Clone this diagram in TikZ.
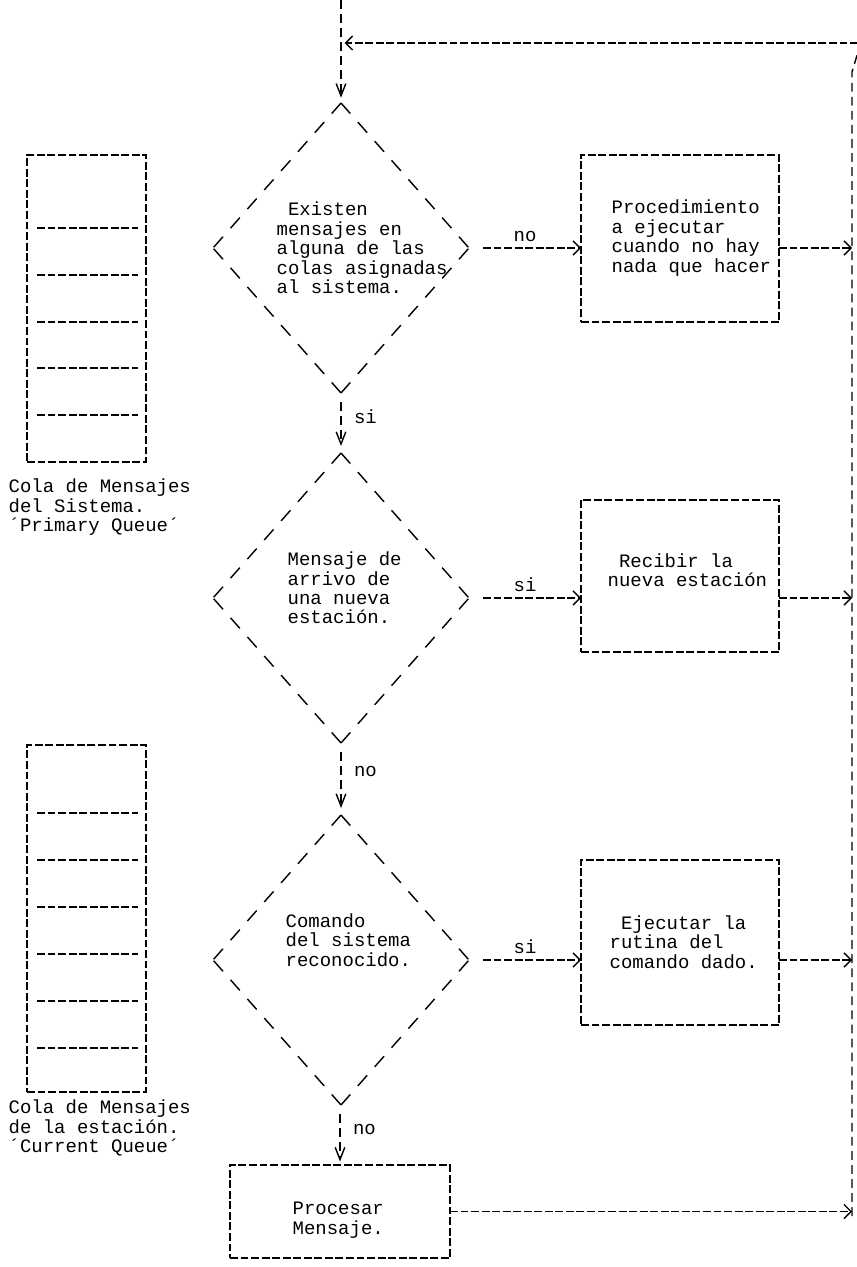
\documentclass[tikz,border=0pt]{standalone}
\usepackage{fontspec}
\setmainfont{Liberation Mono}
\usetikzlibrary{arrows.meta, shapes.geometric}

\begin{document}
\begin{tikzpicture}[
  x=0.02cm, y=-0.02cm,
  font=\fontsize{10.8}{11.05}\selectfont,
  line width=0.8pt,
  box/.style={draw, dash pattern=on 4.5pt off 1.5pt, inner sep=0pt, outer sep=0pt},
  decision/.style={diamond, minimum width=5.12cm, minimum height=5.8cm,
                   inner sep=0pt, outer sep=0pt},
  rim/.style={dash pattern=on 8pt off 6.5pt},
  rung/.style={dash pattern=on 4.5pt off 1.5pt},
  txt/.style={inner sep=0pt, align=left, anchor=west},
  lbl/.style={inner sep=1pt},
  flow/.style={-{Straight Barb[length=4pt, width=8pt]}, dash pattern=on 4.5pt off 1.5pt},
  bus/.style={dash pattern=on 5pt off 3pt},
  drop/.style={bus, -{Straight Barb[length=7pt, width=5.5pt]}},
]
\path[fill=white, use as bounding box] (0,0) rectangle (856,1267);

% message queues
\node[box, minimum width=2.38cm, minimum height=6.14cm] (q1) at (86.5,308.5) {};
\foreach \y in {228,275,322,368,415}
  \draw[rung] (37,\y) -- (138,\y);
\node[txt] (q1txt) at (8,507.5)
  {Cola de Mensajes\\del Sistema.\\´Primary Queue´};

\node[box, minimum width=2.38cm, minimum height=6.94cm] (q2) at (86.5,918.5) {};
\foreach \y in {813,860,907,954,1001,1048}
  \draw[rung] (37,\y) -- (138,\y);
\node[txt] (q2txt) at (8,1128)
  {Cola de Mensajes\\de la estación.\\´Current Queue´};

% decisions
\node[decision] (d1) at (341,248) {};
\node[decision] (d2) at (341,598) {};
\node[decision] (d3) at (341,960) {};
\foreach \d in {d1,d2,d3} {
  \draw[rim] (\d.north) -- (\d.east);
  \draw[rim] (\d.north) -- (\d.west);
  \draw[rim] (\d.south) -- (\d.east);
  \draw[rim] (\d.south) -- (\d.west);
}
\node[txt] (d1txt) at (276,248)
  {\hphantom{x}Existen\\mensajes en\\alguna de las\\colas asignadas\\al sistema.};
\node[txt] (d2txt) at (287,588)
  {Mensaje de\\arrivo de\\una nueva\\estación.};
\node[txt] (d3txt) at (285,940)
  {Comando\\del sistema\\reconocido.};

% actions
\node[box, minimum width=3.96cm, minimum height=3.34cm] (b1) at (680,238.5) {};
\node[box, minimum width=3.96cm, minimum height=3.04cm] (b2) at (680,576) {};
\node[box, minimum width=3.96cm, minimum height=3.3cm] (b3) at (680,942.5) {};
\node[txt] (b1txt) at (611,238)
  {Procedimiento\\a ejecutar\\cuando no hay\\nada que hacer};
\node[txt] (b2txt) at (607,570)
  {\hphantom{x}Recibir la\\nueva estación};
\node[txt] (b3txt) at (609,942)
  {\hphantom{x}Ejecutar la\\rutina del\\comando dado.};

\node[box, minimum width=4.4cm, minimum height=1.86cm] (pm) at (340,1211.5) {};
\node[txt] (pmtxt) at (292,1220) {Procesar\\Mensaje.};

% loop back
\coordinate (start) at (341,0);
\coordinate (bus) at (852,0);
\coordinate (busend) at (852,1216);
\coordinate (bustop) at (852,72);
\coordinate (turn) at (858,52);
\coordinate (edge) at (858,43);
\coordinate (join) at (341,43);

\draw[drop, shorten >=3pt] (start) -- (d1.north);
\draw[drop, shorten <=5pt, shorten >=4pt] (d1.south)
  -- node[lbl, right=6pt, pos=0.4] (l1) {si} (d2.north);
\draw[drop, shorten <=5pt, shorten >=4pt] (d2.south)
  -- node[lbl, right=6pt, pos=0.4] (l2) {no} (d3.north);
\draw[drop, shorten <=5pt, shorten >=2pt] (d3.south -| pm.north)
  -- node[lbl, right=6pt, pos=0.4] (l3) {no} (pm.north);

\draw[flow, shorten <=8pt] (d1.east) -- node[lbl, above=2pt] (l4) {no} (d1.east -| b1.west);
\draw[flow, shorten <=8pt] (d2.east) -- node[lbl, above=2pt] (l5) {si} (d2.east -| b2.west);
\draw[flow, shorten <=8pt] (d3.east) -- node[lbl, above=2pt] (l6) {si} (d3.east -| b3.west);

\draw[flow] (b1.east |- d1.east) -- (d1.east -| bus);
\draw[flow] (b2.east |- d2.east) -- (d2.east -| bus);
\draw[flow] (b3.east |- d3.east) -- (d3.east -| bus);
\draw[flow] (pm.east) -- (pm.east -| bus);

\draw[bus] (busend) -- (bustop) -- (turn);
\draw[flow, shorten >=2pt] (edge) -- (join);

\end{tikzpicture}
\end{document}
